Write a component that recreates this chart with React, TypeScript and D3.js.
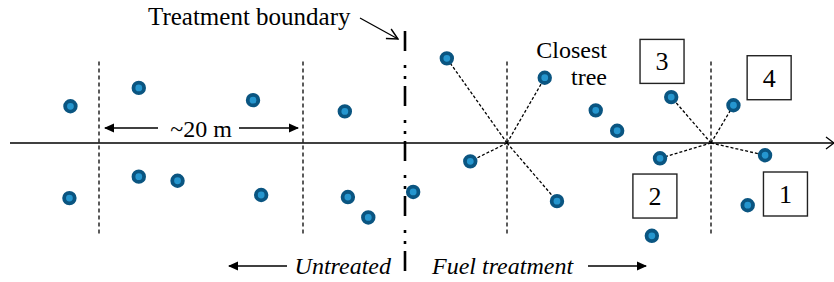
import * as d3 from "d3";
import React from "react";

// positions in metres: x along the transect (0 = treatment boundary), y across it
const untreatedTrees: [number, number][] = [
  [-32.8, 3.6], [-26.1, 5.4], [-14.9, 4.2], [-5.9, 3.1],
  [-32.9, -5.4], [-26.1, -3.3], [-22.3, -3.7], [-14.1, -5.1], [-5.6, -5.3], [-3.6, -7.3],
];
const treatedTrees: [number, number][] = [
  [0.8, -4.8], [4.1, 8.3], [13.7, 6.4], [6.4, -1.8], [14.9, -5.7],
  [18.7, 3.2], [20.8, 1.2], [26.1, 4.5], [32.2, 3.7], [25.0, -1.5],
  [35.3, -1.2], [33.6, -6.1], [24.2, -9.1],
];
const transects = [-30, -10, 10, 30];
// closest tree in each quadrant, per sample point on the transect
const closestLinks: { at: number; tree: [number, number] }[] = [
  { at: 10, tree: [4.1, 8.3] },
  { at: 10, tree: [13.7, 6.4] },
  { at: 10, tree: [6.4, -1.8] },
  { at: 10, tree: [14.9, -5.7] },
  { at: 30, tree: [26.1, 4.5] },
  { at: 30, tree: [32.2, 3.7] },
  { at: 30, tree: [25.0, -1.5] },
  { at: 30, tree: [35.3, -1.2] },
];
const quadrantLabels: { label: string; pos: [number, number] }[] = [
  { label: "3", pos: [25.2, 8.0] },
  { label: "4", pos: [35.7, 6.4] },
  { label: "2", pos: [24.5, -5.2] },
  { label: "1", pos: [37.3, -5.0] },
];

const W = 834;
const H = 282;
const FONT = "'Liberation Serif', 'DejaVu Serif', serif";

export default function App() {
  const x = d3.scaleLinear().domain([-40, 40]).range([-3, 813]);
  const y = d3.scaleLinear().domain([-10, 10]).range([245, 41]);
  const y0 = y(0);
  const boxSize = 44;

  const dot = (d: [number, number], i: number, key: string) => (
    <circle
      key={key + i}
      cx={x(d[0])}
      cy={y(d[1])}
      r={5.3}
      fill="#2596cf"
      stroke="#0a5581"
      stroke-width={3.8}
    />
  );

  return (
    <svg
      width={W}
      height={H}
      style={{ position: "absolute", left: 0, top: 0, background: "#fff" }}
      fontFamily={FONT}
    >
      <defs>
        <marker id="solid" viewBox="0 0 10 10" refX="9" refY="5" markerWidth="11" markerHeight="10" markerUnits="userSpaceOnUse" orient="auto">
          <path d="M0,0.5 L10,5 L0,9.5 Z" fill="#000" />
        </marker>
        <marker id="open" viewBox="0 0 12 12" refX="11" refY="6" markerWidth="13" markerHeight="13" markerUnits="userSpaceOnUse" orient="auto">
          <path d="M1,1 L11,6 L1,11" fill="none" stroke="#000" stroke-width="1.3" />
        </marker>
      </defs>

      {/* transect sample lines */}
      {transects.map((t) => (
        <line
          key={t}
          x1={x(t)}
          x2={x(t)}
          y1={y(8.0)}
          y2={y(-9.1)}
          stroke="#333"
          stroke-width={1.6}
          stroke-dasharray="4,3"
        />
      ))}

      {/* main transect axis */}
      <line x1={10} x2={834} y1={y0} y2={y0} stroke="#000" stroke-width={1.6} />
      <path d={`M826,${y0 - 6} L834,${y0} L826,${y0 + 6}`} fill="none" stroke="#000" stroke-width={1.3} />

      {/* closest tree links */}
      {closestLinks.map((l, i) => (
        <line
          key={"l" + i}
          x1={x(l.at)}
          y1={y0}
          x2={x(l.tree[0])}
          y2={y(l.tree[1])}
          stroke="#000"
          stroke-width={1.3}
          stroke-dasharray="3,2"
        />
      ))}

      {/* treatment boundary */}
      <line
        x1={x(0)}
        x2={x(0)}
        y1={31}
        y2={273}
        stroke="#000"
        stroke-width={2.6}
        stroke-dasharray="20,14,3,8,3,7"
      />

      {untreatedTrees.map((d, i) => dot(d, i, "u"))}
      {treatedTrees.map((d, i) => dot(d, i, "t"))}

      {quadrantLabels.map((q) => (
        <g key={q.label} transform={`translate(${x(q.pos[0])},${y(q.pos[1])})`}>
          <rect
            x={-boxSize / 2}
            y={-boxSize / 2}
            width={boxSize}
            height={boxSize}
            fill="#fff"
            stroke="#222"
            stroke-width={1.4}
          />
          <text textAnchor="middle" y={9} fontSize={26} fill="#000">
            {q.label}
          </text>
        </g>
      ))}

      {/* annotations */}
      <text x={148} y={25} fontSize={25}>Treatment boundary</text>
      <line x1={360} y1={18} x2={398} y2={39} stroke="#000" stroke-width={1.3} marker-end="url(#open)" />

      <text x={607} y={58} fontSize={24} textAnchor="end">Closest</text>
      <text x={607} y={85} fontSize={24} textAnchor="end">tree</text>

      <text x={x(-20)} y={137} fontSize={24} textAnchor="middle">~20 m</text>
      <line x1={158} y1={128} x2={x(-30) + 6} y2={128} stroke="#000" stroke-width={1.5} marker-end="url(#solid)" />
      <line x1={239} y1={128} x2={x(-10) - 5} y2={128} stroke="#000" stroke-width={1.5} marker-end="url(#solid)" />

      <text x={391} y={274} fontSize={24} fontStyle="italic" textAnchor="end">Untreated</text>
      <line x1={287} y1={266} x2={229} y2={266} stroke="#000" stroke-width={1.5} marker-end="url(#solid)" />

      <text x={432} y={274} fontSize={24} fontStyle="italic">Fuel treatment</text>
      <line x1={588} y1={266} x2={646} y2={266} stroke="#000" stroke-width={1.5} marker-end="url(#solid)" />
    </svg>
  );
}
